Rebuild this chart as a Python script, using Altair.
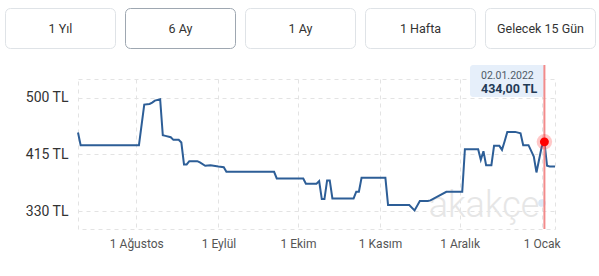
import altair as alt
import pandas as pd

# ---------------- data ----------------
dates = ["2021-07-10", "2021-07-11", "2021-08-02", "2021-08-04", "2021-08-06", "2021-08-07",
         "2021-08-08", "2021-08-10", "2021-08-11", "2021-08-12", "2021-08-14", "2021-08-15",
         "2021-08-17", "2021-08-18", "2021-08-19", "2021-08-20", "2021-08-21", "2021-08-24",
         "2021-08-25", "2021-08-27", "2021-08-29", "2021-09-01", "2021-09-03", "2021-09-04",
         "2021-09-22", "2021-09-23", "2021-10-03", "2021-10-04", "2021-10-08", "2021-10-09",
         "2021-10-10", "2021-10-11", "2021-10-12", "2021-10-13", "2021-10-14", "2021-10-22",
         "2021-10-23", "2021-10-24", "2021-10-25", "2021-11-03", "2021-11-04", "2021-11-12",
         "2021-11-14", "2021-11-16", "2021-11-19", "2021-11-20", "2021-11-26", "2021-12-02",
         "2021-12-03", "2021-12-08", "2021-12-09", "2021-12-10", "2021-12-11", "2021-12-13",
         "2021-12-14", "2021-12-16", "2021-12-17", "2021-12-18", "2021-12-19", "2021-12-22",
         "2021-12-24", "2021-12-25", "2021-12-27", "2021-12-29", "2021-12-30", "2022-01-01",
         "2022-01-02", "2022-01-03", "2022-01-04", "2022-01-06"]
prices = [448, 429, 429, 490, 491, 493, 496, 498, 444, 443, 441, 437, 437, 433,
          400, 400, 405, 405, 403, 398, 399, 397, 396, 389, 389, 379,
          379, 371, 371, 375, 348, 348, 376, 376, 349, 349, 359, 359, 380, 380, 339,
          339, 331, 345, 345, 346, 359, 359, 423, 423, 407, 420, 399, 399, 428, 428,
          422, 435, 449, 449, 447, 429, 429, 412, 388, 427, 434, 398, 397, 397]

month_names = ["Ocak", "Şubat", "Mart", "Nisan", "Mayıs", "Haziran", "Temmuz",
               "Ağustos", "Eylül", "Ekim", "Kasım", "Aralık"]
tick_months = [(2021, 8), (2021, 9), (2021, 10), (2021, 11), (2021, 12), (2022, 1)]
y_ticks = [330, 415, 500]
y_domain = [303, 528.5]
x_domain = [(2021, 7, 10), (2022, 1, 6)]

buttons = ["1 Yıl", "6 Ay", "1 Ay", "1 Hafta", "Gelecek 15 Gün"]
active_button = "6 Ay"

sel_date = "2022-01-02"
sel_price = 434
sel_label_date = "02.01.2022"
sel_label_price = "434,00 TL"
watermark = "akakçe"

# ---------------- chart ----------------
W, H = 477, 150
df = pd.DataFrame({"date": dates, "price": prices})
sel_df = pd.DataFrame({"date": [sel_date], "price": [sel_price]})

xscale = alt.Scale(
    type="utc",
    domain=[alt.DateTime(year=y, month=m, date=d, utc=True) for (y, m, d) in x_domain],
)
month_js = "[" + ",".join("'" + n + "'" for n in month_names) + "]"

x_enc = alt.X(
    "date:T",
    scale=xscale,
    axis=alt.Axis(
        values=[alt.DateTime(year=y, month=m, date=1, utc=True) for (y, m) in tick_months],
        labelExpr="'1 ' + " + month_js + "[utcmonth(datum.value)]",
        title=None, grid=True, gridDash=[4, 4], gridColor="#e3e3e3",
        ticks=False, domain=False, labelFont="Roboto", labelFontSize=12,
        labelColor="#555555", labelPadding=9, labelFlush=False, labelOverlap=False,
    ),
)
y_enc = alt.Y(
    "price:Q",
    scale=alt.Scale(domain=y_domain, nice=False, zero=False),
    axis=alt.Axis(
        values=y_ticks, labelExpr="datum.value + ' TL'", title=None, grid=True,
        gridDash=[4, 4], gridColor="#e3e3e3", ticks=False, domain=False,
        labelFont="Roboto", labelFontSize=14, labelColor="#333333", labelPadding=10,
    ),
)

line = alt.Chart(df).mark_line(color="#2d5e97", strokeWidth=2).encode(x=x_enc, y=y_enc)

wm = alt.Chart(pd.DataFrame({"t": [watermark]})).mark_text(
    font="Roboto", fontSize=36, fontWeight=300, color="#e6e6e6", align="center",
    baseline="alphabetic",
).encode(x=alt.value(406), y=alt.value(138), text="t:N")
wm_dot = alt.Chart(pd.DataFrame({"t": [watermark]})).mark_point(
    filled=True, size=60, color="#dce8f5", opacity=1
).encode(x=alt.value(464), y=alt.value(124))

tip_box = alt.Chart(pd.DataFrame({"t": [sel_label_date]})).mark_rect(
    fill="#e6effa", cornerRadius=3
).encode(x=alt.value(392), x2=alt.value(467), y=alt.value(-14), y2=alt.value(18))
tip_date = alt.Chart(pd.DataFrame({"t": [sel_label_date]})).mark_text(
    font="Roboto", fontSize=10.5, color="#4f5b67", align="left", baseline="alphabetic"
).encode(x=alt.value(403), y=alt.value(0), text="t:N")
tip_price = alt.Chart(pd.DataFrame({"t": [sel_label_price]})).mark_text(
    font="Roboto", fontSize=12.5, fontWeight="bold", color="#233a55", align="left",
    baseline="alphabetic"
).encode(x=alt.value(403), y=alt.value(14), text="t:N")

rule = alt.Chart(sel_df).mark_rule(color="#f28b8b", strokeWidth=2).encode(
    x=alt.X("date:T", scale=xscale), y=alt.value(-14), y2=alt.value(H)
)
halo = alt.Chart(sel_df).mark_point(filled=True, size=240, color="#ff2020", opacity=0.25).encode(
    x=alt.X("date:T", scale=xscale), y=alt.Y("price:Q", scale=alt.Scale(domain=y_domain, nice=False, zero=False))
)
dot = alt.Chart(sel_df).mark_point(filled=True, size=80, color="#ff0000", opacity=1).encode(
    x=alt.X("date:T", scale=xscale), y=alt.Y("price:Q", scale=alt.Scale(domain=y_domain, nice=False, zero=False))
)

btn_layers = []
for i, label in enumerate(buttons):
    bx = -73 + 120 * i
    bdf = pd.DataFrame({"label": [label]})
    stroke = "#9ea7b1" if label == active_button else "#dfe3e7"
    btn_layers.append(
        alt.Chart(bdf).mark_rect(fill="white", stroke=stroke, strokeWidth=1, cornerRadius=5).encode(
            x=alt.value(bx + 0.5), x2=alt.value(bx + 110.5), y=alt.value(-70.5), y2=alt.value(-30.5)
        )
    )
    btn_layers.append(
        alt.Chart(bdf).mark_text(font="Roboto", fontSize=12.5, color="#333333", align="center",
                                 baseline="middle").encode(
            x=alt.value(bx + 55.5), y=alt.value(-50.5), text="label:N"
        )
    )

chart = alt.layer(
    wm, wm_dot, line, tip_box, rule, tip_date, tip_price, halo, dot, *btn_layers
).properties(
    width=W, height=H,
    autosize=alt.AutoSizeParams(type="none"),
    padding={"left": 78, "top": 79, "right": 44, "bottom": 47},
    background="white",
).configure_view(
    stroke="#e3e3e3", strokeDash=[4, 4], strokeWidth=1
)

chart.save("out.html", embed_options={"renderer": "svg", "actions": False})
